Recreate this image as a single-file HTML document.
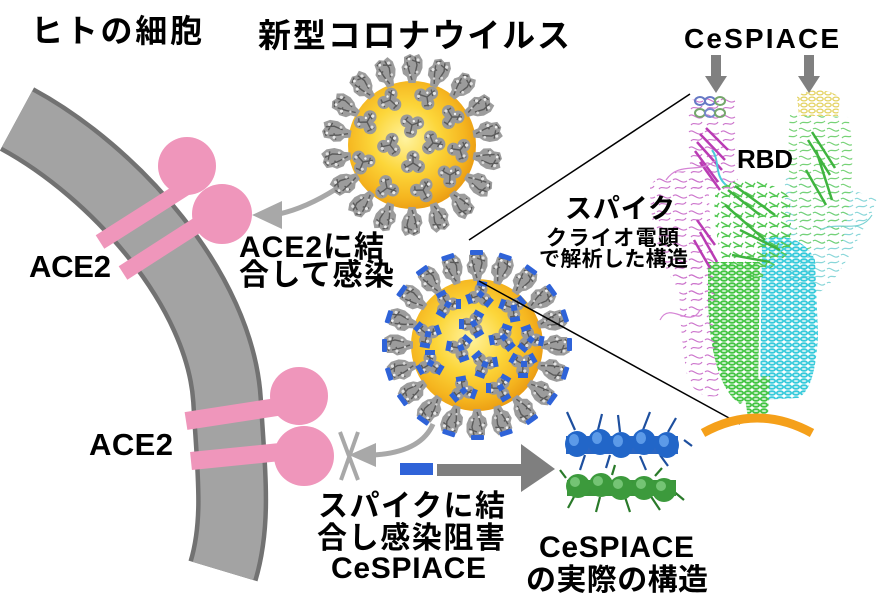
<!DOCTYPE html>
<html><head><meta charset="utf-8"><style>
html,body{margin:0;padding:0;background:#fff;width:879px;height:613px;overflow:hidden}
svg{display:block}
text{font-family:"Liberation Sans","Noto Sans CJK JP",sans-serif;font-weight:700;fill:#000}
</style></head><body>
<svg width="879" height="613" viewBox="0 0 879 613" xmlns="http://www.w3.org/2000/svg">
<defs>
<radialGradient id="yg" cx="0.45" cy="0.45" r="0.58">
<stop offset="0" stop-color="#fff3a0"/><stop offset="0.45" stop-color="#fcd63a"/><stop offset="0.8" stop-color="#f5b51f"/><stop offset="1" stop-color="#ea9a12"/>
</radialGradient>
<g id="sp">
<path d="M0,-3.5 L6,-5 L9,-9 L16,-10.5 L20,-8 L26,-8 L29,-2 L27,2 L29,7 L23,10.5 L15,10.5 L9,8 L6,5 L0,3.5 Z" fill="#9c9c9c"/>
<path d="M3,0 L12,-3 L21,-5 M9,3 L18,5 L26,3 M14,-8 L17,-2 M20,8 L23,0 M24,-6 L27,-1" stroke="#5a5a5a" stroke-width="1.4" fill="none"/>
<circle cx="16" cy="-6" r="1.6" fill="#e4e4e4"/><circle cx="23" cy="6" r="1.6" fill="#e0e0e0"/>
<circle cx="11" cy="5" r="1.4" fill="#d8d8d8"/><circle cx="24" cy="-3" r="1.4" fill="#eee"/><circle cx="8" cy="-2" r="1.2" fill="#d0d0d0"/>
</g>
<g id="sp2"><use href="#sp"/><rect x="26" y="-7" width="5" height="13" rx="1" fill="#2f63d8"/></g>
<g id="tv">
<circle cx="0" cy="-6" r="6.5" fill="#999"/><circle cx="5.5" cy="3.5" r="6.5" fill="#999"/><circle cx="-5.5" cy="3.5" r="6.5" fill="#999"/>
<path d="M0,0 L0,-10 M0,0 L8,5 M0,0 L-8,5 M-3,-8 L3,-5 M5,8 L9,1 M-9,1 L-4,8" stroke="#5a5a5a" stroke-width="1.4" fill="none"/>
<circle cx="2" cy="-8" r="1.6" fill="#e8e8e8"/><circle cx="7" cy="2" r="1.6" fill="#ddd"/><circle cx="-6" cy="6" r="1.6" fill="#ddd"/>
<circle cx="-3" cy="-3" r="1.2" fill="#f4f4f4"/>
</g>
<g id="tv2"><use href="#tv"/><g fill="#2f63d8"><rect x="-5" y="-14" width="10" height="5"/><rect x="-5" y="-14" width="10" height="5" transform="rotate(120)"/><rect x="-5" y="-14" width="10" height="5" transform="rotate(240)"/><rect x="-3" y="-4" width="6" height="6" transform="rotate(30)"/></g></g>
<pattern id="pG" width="8" height="6" patternUnits="userSpaceOnUse"><ellipse cx="4" cy="3" rx="3.2" ry="1.9" fill="#c4eec4" stroke="#34c034" stroke-width="1.7"/></pattern>
<pattern id="pG2" width="12" height="10" patternUnits="userSpaceOnUse"><path d="M1,2 L10,7 M2,8 C5,4 8,9 11,3" stroke="#45c445" stroke-width="1.4" fill="none"/></pattern>
<pattern id="pC" width="8" height="6" patternUnits="userSpaceOnUse"><ellipse cx="4" cy="3" rx="3.2" ry="1.9" fill="#c6f0f4" stroke="#26c6d8" stroke-width="1.7"/></pattern>
<pattern id="pY" width="8" height="6" patternUnits="userSpaceOnUse"><ellipse cx="4" cy="3" rx="3.2" ry="1.9" fill="none" stroke="#e2cf55" stroke-width="1.3"/></pattern>
<pattern id="pM" width="16" height="16" patternUnits="userSpaceOnUse"><path d="M1,4 C5,0 9,9 15,5 M3,13 C6,9 11,15 14,10" stroke="#c86ac8" stroke-width="1.2" fill="none"/></pattern>
<pattern id="pLG" width="14" height="14" patternUnits="userSpaceOnUse"><path d="M1,3 C5,0 8,8 13,4 M2,12 C5,8 9,13 13,9" stroke="#6ccf6c" stroke-width="1.2" fill="none"/></pattern>
<pattern id="pPC" width="14" height="14" patternUnits="userSpaceOnUse"><path d="M1,3 C5,0 8,8 13,4 M2,12 C5,8 9,13 13,9" stroke="#7fd3d6" stroke-width="1.2" fill="none"/></pattern>
</defs>

<!-- membrane -->
<path d="M17,119 C115,172 220,290 227,400 C231,470 238,521 223,571" stroke="#727272" stroke-width="72" fill="none"/>
<path d="M17,119 C115,172 220,290 227,400 C231,470 238,521 223,571" stroke="#a3a3a3" stroke-width="63" fill="none"/>

<!-- ACE2 -->
<g stroke="#ef96bb" stroke-width="16" fill="none">
<line x1="100" y1="242" x2="185" y2="188"/><line x1="123" y1="273" x2="210" y2="217"/>
<line x1="186" y1="421" x2="290" y2="405" stroke-width="18"/><line x1="191" y1="461" x2="300" y2="450" stroke-width="18"/>
</g>
<g fill="#ef96bb">
<circle cx="187" cy="166" r="29"/><circle cx="222" cy="214" r="30"/>
<circle cx="299" cy="396" r="29"/><circle cx="304" cy="456" r="30"/>
</g>

<!-- arrows gray -->
<path d="M336,189 Q306,208 279,214" stroke="#a8a8a8" stroke-width="5" fill="none"/>
<polygon points="252,215 282,201 282,229" fill="#a8a8a8"/>
<path d="M433,424 Q421,452 374,455" stroke="#a8a8a8" stroke-width="5" fill="none"/>
<polygon points="349,455 376,443 376,467" fill="#a8a8a8"/>
<path d="M340,432 L358,480 M358,432 L341,480" stroke="#a8a8a8" stroke-width="4"/>
<rect x="400" y="463" width="33" height="12" fill="#2f63d8"/>
<polygon points="437,464 521,464 521,444 555,469 521,492 521,476 437,476" fill="#7f7f7f"/>

<!-- virus 1 -->
<circle cx="412" cy="145" r="64" fill="url(#yg)"/>
<g>
<use href="#sp" transform="translate(412 145) rotate(-90) translate(62 0)"/>
<use href="#sp" transform="translate(412 145) rotate(-70) translate(62 0)"/>
<use href="#sp" transform="translate(412 145) rotate(-50) translate(62 0)"/>
<use href="#sp" transform="translate(412 145) rotate(-30) translate(62 0)"/>
<use href="#sp" transform="translate(412 145) rotate(-10) translate(62 0)"/>
<use href="#sp" transform="translate(412 145) rotate(10) translate(62 0)"/>
<use href="#sp" transform="translate(412 145) rotate(30) translate(62 0)"/>
<use href="#sp" transform="translate(412 145) rotate(50) translate(62 0)"/>
<use href="#sp" transform="translate(412 145) rotate(70) translate(62 0)"/>
<use href="#sp" transform="translate(412 145) rotate(90) translate(62 0)"/>
<use href="#sp" transform="translate(412 145) rotate(110) translate(62 0)"/>
<use href="#sp" transform="translate(412 145) rotate(130) translate(62 0)"/>
<use href="#sp" transform="translate(412 145) rotate(150) translate(62 0)"/>
<use href="#sp" transform="translate(412 145) rotate(170) translate(62 0)"/>
<use href="#sp" transform="translate(412 145) rotate(190) translate(62 0)"/>
<use href="#sp" transform="translate(412 145) rotate(210) translate(62 0)"/>
<use href="#sp" transform="translate(412 145) rotate(230) translate(62 0)"/>
<use href="#sp" transform="translate(412 145) rotate(250) translate(62 0)"/>
</g>
<g>
<use href="#tv" transform="translate(390 100) rotate(10)"/><use href="#tv" transform="translate(427 97) rotate(50)"/>
<use href="#tv" transform="translate(452 117) rotate(90)"/><use href="#tv" transform="translate(367 122) rotate(30)"/>
<use href="#tv" transform="translate(412 125) rotate(70)"/><use href="#tv" transform="translate(390 145) rotate(20)"/>
<use href="#tv" transform="translate(433 143) rotate(100)"/><use href="#tv" transform="translate(460 150) rotate(40)"/>
<use href="#tv" transform="translate(363 162) rotate(80)"/><use href="#tv" transform="translate(413 163) rotate(0)"/>
<use href="#tv" transform="translate(450 175) rotate(60)"/><use href="#tv" transform="translate(387 188) rotate(110)"/>
<use href="#tv" transform="translate(423 190) rotate(30)"/>
</g>

<!-- virus 2 -->
<circle cx="477" cy="345" r="66" fill="url(#yg)"/>
<g>
<use href="#sp2" transform="translate(477 345) rotate(-90) translate(64 0)"/>
<use href="#sp2" transform="translate(477 345) rotate(-72) translate(64 0)"/>
<use href="#sp2" transform="translate(477 345) rotate(-54) translate(64 0)"/>
<use href="#sp2" transform="translate(477 345) rotate(-36) translate(64 0)"/>
<use href="#sp2" transform="translate(477 345) rotate(-18) translate(64 0)"/>
<use href="#sp2" transform="translate(477 345) rotate(0) translate(64 0)"/>
<use href="#sp2" transform="translate(477 345) rotate(18) translate(64 0)"/>
<use href="#sp2" transform="translate(477 345) rotate(36) translate(64 0)"/>
<use href="#sp2" transform="translate(477 345) rotate(54) translate(64 0)"/>
<use href="#sp2" transform="translate(477 345) rotate(72) translate(64 0)"/>
<use href="#sp2" transform="translate(477 345) rotate(90) translate(64 0)"/>
<use href="#sp2" transform="translate(477 345) rotate(108) translate(64 0)"/>
<use href="#sp2" transform="translate(477 345) rotate(126) translate(64 0)"/>
<use href="#sp2" transform="translate(477 345) rotate(144) translate(64 0)"/>
<use href="#sp2" transform="translate(477 345) rotate(162) translate(64 0)"/>
<use href="#sp2" transform="translate(477 345) rotate(180) translate(64 0)"/>
<use href="#sp2" transform="translate(477 345) rotate(198) translate(64 0)"/>
<use href="#sp2" transform="translate(477 345) rotate(216) translate(64 0)"/>
<use href="#sp2" transform="translate(477 345) rotate(234) translate(64 0)"/>
<use href="#sp2" transform="translate(477 345) rotate(252) translate(64 0)"/>
</g>
<g>
<use href="#tv2" transform="translate(480 295) rotate(10)"/><use href="#tv2" transform="translate(513 308) rotate(50)"/>
<use href="#tv2" transform="translate(447 304) rotate(90)"/><use href="#tv2" transform="translate(473 324) rotate(30)"/>
<use href="#tv2" transform="translate(427 334) rotate(70)"/><use href="#tv2" transform="translate(503 338) rotate(20)"/>
<use href="#tv2" transform="translate(530 339) rotate(100)"/><use href="#tv2" transform="translate(460 348) rotate(40)"/>
<use href="#tv2" transform="translate(484 364) rotate(80)"/><use href="#tv2" transform="translate(430 364) rotate(0)"/>
<use href="#tv2" transform="translate(523 364) rotate(60)"/><use href="#tv2" transform="translate(463 390) rotate(110)"/>
<use href="#tv2" transform="translate(500 388) rotate(30)"/>
</g>

<!-- zoom lines -->
<path d="M690,94 L469,240" stroke="#000" stroke-width="1.5"/>
<path d="M479,281 L740,424" stroke="#000" stroke-width="1.5"/>

<!-- spike protein structure -->
<g opacity="0.92">
<path d="M650,185 C665,168 695,168 708,178 L714,300 C705,305 690,300 680,290 C662,270 650,230 650,185 Z" fill="url(#pM)"/>
<path d="M680,255 L713,250 L720,395 C705,400 690,392 686,370 C680,330 678,290 680,255 Z" fill="url(#pM)"/>
<path d="M690,100 L735,95 L738,190 L695,195 C688,160 686,130 690,100 Z" fill="url(#pM)"/>
<path d="M785,175 C820,178 850,190 877,198 L872,212 C852,250 835,290 812,295 L790,285 C786,250 784,210 785,175 Z" fill="url(#pPC)"/>
<path d="M790,115 L848,117 C856,150 852,200 842,245 L800,250 C790,210 786,160 790,115 Z" fill="url(#pLG)"/>
<path d="M797,96 C810,88 830,88 840,98 L838,116 L799,116 Z" fill="url(#pY)"/>
<path d="M762,240 C780,232 805,238 815,260 L818,335 C816,372 810,392 798,398 L760,400 Z" fill="url(#pC)"/>
<path d="M716,190 C732,176 770,176 790,198 L792,250 C780,262 768,268 760,280 L725,270 C716,240 712,210 716,190 Z" fill="url(#pG2)"/>
<path d="M708,262 L760,262 L758,395 L740,404 C722,392 710,360 708,300 Z" fill="url(#pG)"/>
<path d="M742,378 L770,376 L768,415 L748,418 Z" fill="url(#pG)"/>
<g stroke="#b52cae" stroke-width="2.5" fill="none">
<path d="M697,142 L722,170 M700,134 L725,160 M695,151 L718,182 M700,162 L720,190 M706,128 L728,150"/>
<path d="M697,220 L715,245 M700,232 L717,262 M694,240 L710,268"/>
</g>
<g stroke="#2fae2f" stroke-width="2.5" fill="none">
<path d="M728,190 L760,215 M735,186 L775,215 M725,205 L765,240 M740,230 L780,250 M732,255 L770,262"/>
<path d="M808,140 L830,175 M812,132 L835,168 M816,150 L832,200 M806,170 L826,205"/>
</g>
<g fill="none" stroke-width="2">
<ellipse cx="700" cy="101" rx="5" ry="4" stroke="#5a6ec0"/><ellipse cx="710" cy="101" rx="5" ry="4" stroke="#5a6ec0"/><ellipse cx="720" cy="101" rx="5" ry="4" stroke="#6aa060"/>
<ellipse cx="700" cy="113" rx="5" ry="4" stroke="#6aa060"/><ellipse cx="710" cy="113" rx="5" ry="4" stroke="#6a7ec8"/><ellipse cx="720" cy="113" rx="5" ry="4" stroke="#6aa060"/>
<path d="M712,150 C720,160 714,175 726,185" stroke="#3cc8d8"/>
<path d="M660,320 C670,300 690,330 700,310 M666,180 C680,160 700,175 716,160" stroke="#d27ad2" stroke-width="1.2"/>
<path d="M820,230 C840,220 860,235 872,215" stroke="#6fcfd0" stroke-width="1.2"/>
</g>
</g>
<path d="M703,433 Q757,403 812,433" stroke="#f5a01a" stroke-width="9" fill="none"/>

<!-- down arrows -->
<polygon points="711,55 721,55 721,76 727,76 716,93 705,76 711,76" fill="#808080"/>
<polygon points="804,55 814,55 814,76 820,76 809,93 798,76 804,76" fill="#808080"/>

<!-- CeSPIACE helices -->
<g stroke-width="2.2" fill="none">
<path d="M575,430 L567,412 M598,430 L602,414 M620,432 L618,415 M643,430 L650,412 M668,432 L676,418 M684,440 L692,446 M585,455 L580,470 M640,456 L646,470 M610,455 L606,468 M660,455 L668,466" stroke="#1e4f9e"/>
<path d="M575,495 L568,508 M600,497 L596,512 M625,497 L630,512 M650,495 L660,510 M672,490 L684,500 M566,478 L560,470 M612,475 L615,465 M655,476 L662,468" stroke="#2a7a2a"/>
</g>
<path d="M566,436 L678,436 L678,454 L566,454 Z" fill="#2a66c4"/>
<g fill="#2266c8">
<ellipse cx="577" cy="444" rx="12" ry="13"/><ellipse cx="600" cy="442" rx="12" ry="13"/><ellipse cx="621" cy="445" rx="12" ry="13"/><ellipse cx="644" cy="442" rx="12" ry="13"/><ellipse cx="667" cy="445" rx="12" ry="13"/>
</g>
<g fill="#5c9ae8">
<ellipse cx="574" cy="440" rx="5" ry="6"/><ellipse cx="597" cy="438" rx="5" ry="6"/><ellipse cx="618" cy="441" rx="5" ry="6"/><ellipse cx="641" cy="438" rx="5" ry="6"/><ellipse cx="664" cy="441" rx="5" ry="6"/>
</g>
<path d="M567,480 L676,480 L676,496 L567,496 Z" fill="#3c963c"/>
<g fill="#3c9a3c">
<ellipse cx="578" cy="486" rx="12" ry="12"/><ellipse cx="601" cy="485" rx="12" ry="12"/><ellipse cx="621" cy="488" rx="12" ry="12"/><ellipse cx="644" cy="488" rx="12" ry="12"/><ellipse cx="664" cy="490" rx="12" ry="12"/>
</g>
<g fill="#74c474">
<ellipse cx="575" cy="482" rx="5" ry="5"/><ellipse cx="598" cy="481" rx="5" ry="5"/><ellipse cx="618" cy="484" rx="5" ry="5"/><ellipse cx="641" cy="484" rx="5" ry="5"/><ellipse cx="661" cy="486" rx="5" ry="5"/>
</g>

<!-- text -->
<text x="31" y="42" font-size="32" textLength="171">ヒトの細胞</text>
<text x="258" y="47" font-size="33" textLength="312">新型コロナウイルス</text>
<text x="684" y="48" font-size="28" textLength="155">CeSPIACE</text>
<text x="737" y="168" font-size="26" textLength="56">RBD</text>
<text x="565" y="218" font-size="27" textLength="110">スパイク</text>
<text x="546" y="245" font-size="21" textLength="133">クライオ電顕</text>
<text x="539" y="266" font-size="21" textLength="149">で解析した構造</text>
<text x="29" y="277" font-size="31" textLength="82">ACE2</text>
<text x="89" y="455" font-size="31" textLength="84">ACE2</text>
<text x="239" y="257" font-size="30" textLength="145">ACE2に結</text>
<text x="239" y="285" font-size="30" textLength="155">合して感染</text>
<text x="318" y="516" font-size="30" textLength="187">スパイクに結</text>
<text x="317" y="548" font-size="30" textLength="188">合し感染阻害</text>
<text x="331" y="578" font-size="30" textLength="155">CeSPIACE</text>
<text x="539" y="557" font-size="30" textLength="155">CeSPIACE</text>
<text x="526" y="590" font-size="30" textLength="182">の実際の構造</text>
</svg>
</body></html>
